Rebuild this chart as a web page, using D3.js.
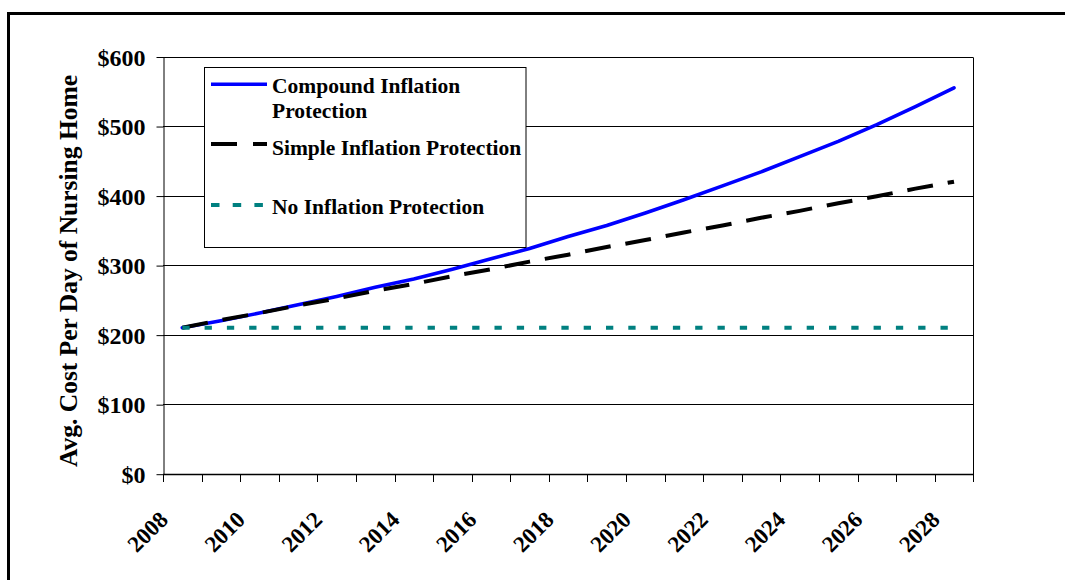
<!DOCTYPE html>
<html>
<head>
<meta charset="utf-8">
<script src="https://cdn.jsdelivr.net/npm/d3@7"></script>
<style>
  html, body { margin: 0; padding: 0; background: #fff; overflow: hidden; }
  svg { display: block; }
  text { font-family: "Liberation Serif", "Times New Roman", serif; font-weight: bold; fill: #000; }
</style>
</head>
<body>
<svg id="chart" width="1065" height="580"></svg>
<script>
// ---- data ----
const years = [2008, 2009, 2010, 2011, 2012, 2013, 2014, 2015, 2016, 2017, 2018,
               2019, 2020, 2021, 2022, 2023, 2024, 2025, 2026, 2027, 2028];
const compound = [210, 220, 231, 243, 255, 268, 280, 294, 309, 324, 341,
                  357, 375, 394, 414, 434, 456, 478, 502, 528, 555];
const simple   = [210, 221, 231, 242, 252, 263, 273, 284, 294, 305, 315,
                  326, 336, 347, 357, 368, 378, 389, 399, 410, 420];
const noInfl   = [210, 210, 210, 210, 210, 210, 210, 210, 210, 210, 210,
                  210, 210, 210, 210, 210, 210, 210, 210, 210, 210];
const yTicks = [0, 100, 200, 300, 400, 500, 600];
const xLabels = [2008, 2010, 2012, 2014, 2016, 2018, 2020, 2022, 2024, 2026, 2028];
const seriesNames = ["Compound Inflation Protection", "Simple Inflation Protection", "No Inflation Protection"];
const yTitle = "Avg. Cost Per Day of Nursing Home";

// ---- layout ----
const svg = d3.select("#chart");
const L = 163, R = 973.3, T = 56.5, B = 473.7;

const x = d3.scaleBand().domain(years).range([L, R]).paddingInner(0).paddingOuter(0);
const y = d3.scaleLinear().domain([0, 600]).range([B, T]);
const xc = d => x(d) + x.bandwidth() / 2;

svg.append("rect").attr("width", 1065).attr("height", 580).attr("fill", "#fff");

// outer frame (top and left edges visible)
svg.append("path")
  .attr("d", "M8.5,580 L8.5,13.5 L1065,13.5")
  .attr("fill", "none").attr("stroke", "#000").attr("stroke-width", 3);

// gridlines
svg.append("g").selectAll("line").data(yTicks).join("line")
  .attr("x1", L).attr("x2", R)
  .attr("y1", d => Math.round(y(d)) + 0.5).attr("y2", d => Math.round(y(d)) + 0.5)
  .attr("stroke", "#000").attr("stroke-width", 1);

// right border of plot
svg.append("line")
  .attr("x1", Math.round(R) + 0.5).attr("x2", Math.round(R) + 0.5)
  .attr("y1", Math.round(T) + 0.5).attr("y2", Math.round(B) + 0.5)
  .attr("stroke", "#000").attr("stroke-width", 1);

// y axis
const yAxis = d3.axisLeft(y).tickValues(yTicks).tickFormat(d => "$" + d).tickSizeInner(7).tickSizeOuter(0).tickPadding(11);
const gy = svg.append("g").attr("transform", `translate(${Math.round(L) + 0.5},0.5)`).call(yAxis);
gy.selectAll("path.domain").attr("stroke", "#000");
gy.selectAll(".tick line").attr("stroke", "#000");
gy.selectAll(".tick text")
  .style("font-family", '"Liberation Serif", serif').style("font-weight", "bold")
  .attr("font-size", 24).attr("dy", "0.34em");

// x axis: ticks at category boundaries
const boundaries = years.map(d => x(d)).concat([R]);
const gx = svg.append("g");
gx.append("line")
  .attr("x1", L).attr("x2", R)
  .attr("y1", Math.round(B) + 0.5).attr("y2", Math.round(B) + 0.5)
  .attr("stroke", "#000").attr("stroke-width", 1.5);
gx.selectAll("line.tk").data(boundaries).join("line").attr("class", "tk")
  .attr("x1", d => Math.round(d) + 0.5).attr("x2", d => Math.round(d) + 0.5)
  .attr("y1", Math.round(B)).attr("y2", Math.round(B) + 8)
  .attr("stroke", "#000").attr("stroke-width", 1);
gx.selectAll("text").data(xLabels).join("text")
  .attr("text-anchor", "end")
  .attr("font-size", 23)
  .attr("transform", d => `translate(${xc(d) - 13},521) rotate(-45)`)
  .text(d => d);

// y title
svg.append("text")
  .attr("text-anchor", "middle")
  .attr("font-size", 25.5)
  .attr("transform", `translate(77,271) rotate(-90)`)
  .text(yTitle);

// series lines
const line = d3.line().x((d, i) => xc(years[i])).y(d => y(d));

svg.append("path").datum(compound)
  .attr("d", line).attr("fill", "none")
  .attr("stroke", "#0000ff").attr("stroke-width", 3.6)
  .attr("stroke-linecap", "round").attr("stroke-linejoin", "round");

svg.append("path").datum(simple)
  .attr("d", line).attr("fill", "none")
  .attr("stroke", "#000").attr("stroke-width", 4)
  .attr("stroke-dasharray", "26,15").attr("stroke-linejoin", "round");

svg.append("path").datum(noInfl)
  .attr("d", line).attr("fill", "none")
  .attr("stroke", "#008080").attr("stroke-width", 4)
  .attr("stroke-dasharray", "7.3,15");

// legend
const lg = svg.append("g");
lg.append("rect").attr("x", 204.5).attr("y", 67.5).attr("width", 321.5).attr("height", 180)
  .attr("fill", "#fff").attr("stroke", "#000").attr("stroke-width", 1);

const legendItems = [
  { name: seriesNames[0], lines: ["Compound Inflation", "Protection"], ly: 84.3, ty: 93, color: "#0000ff", dash: null, w: 3.6 },
  { name: seriesNames[1], lines: ["Simple Inflation Protection"], ly: 144, ty: 154.5, color: "#000", dash: "26,16", w: 4 },
  { name: seriesNames[2], lines: ["No Inflation Protection"], ly: 205, ty: 214, color: "#008080", dash: "8.5,13.2", w: 4 }
];
legendItems.forEach(it => {
  lg.append("line").attr("x1", 211).attr("x2", 267).attr("y1", it.ly).attr("y2", it.ly)
    .attr("stroke", it.color).attr("stroke-width", it.w)
    .attr("stroke-dasharray", it.dash);
  const t = lg.append("text").attr("x", 272).attr("y", it.ty).attr("font-size", 21.5);
  it.lines.forEach((s, i) => {
    t.append("tspan").attr("x", 272).attr("dy", i === 0 ? 0 : 25).text(s);
  });
});
</script>
</body>
</html>
